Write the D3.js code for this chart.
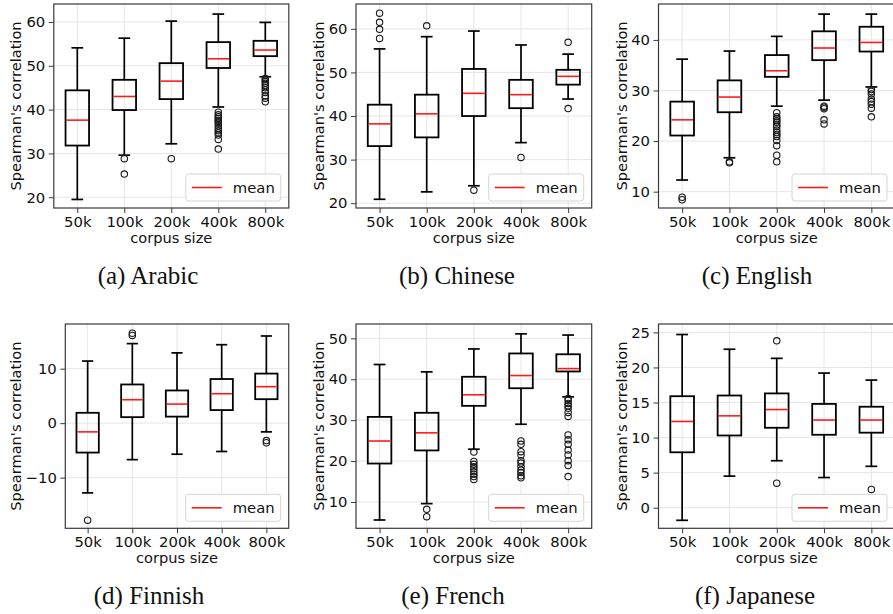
<!DOCTYPE html>
<html>
<head>
<meta charset="utf-8">
<script src="https://cdn.jsdelivr.net/npm/d3@7"></script>
<style>
  html, body { margin: 0; padding: 0; background: #fff; }
  svg { display: block; }
  .tick text { font-family: "DejaVu Sans", sans-serif; }
</style>
</head>
<body>
<svg id="chart" width="893" height="614"></svg>
<script>
// Corpus sizes on the x axis
const categories = ["50k", "100k", "200k", "400k", "800k"];

// Box statistics per corpus size: [lower whisker, Q1, red line, Q3, upper whisker]
const arabicStats = [
  [19.5, 31.8, 37.6, 44.4, 54.1],
  [29.6, 39.9, 43.0, 46.8, 56.3],
  [32.2, 42.4, 46.5, 50.6, 60.2],
  [40.6, 49.5, 51.6, 55.4, 61.8],
  [47.5, 52.2, 53.6, 55.7, 59.9]
];
const arabicOutliers = [
  [],
  [28.8, 25.3],
  [28.8],
  [39.4, 38.8, 38.4, 38.0, 37.6, 37.3, 36.9, 36.3, 35.7, 35.2, 34.7, 34.2, 33.2, 31.0],
  [47.1, 46.8, 46.4, 46.0, 45.5, 45.0, 44.5, 43.9, 43.1, 42.6, 41.8]
];

const chineseStats = [
  [20.9, 33.1, 38.2, 42.6, 55.4],
  [22.6, 35.1, 40.5, 44.9, 58.2],
  [24.0, 40.0, 45.2, 50.8, 59.5],
  [33.9, 41.8, 44.9, 48.3, 56.3],
  [43.9, 47.2, 49.1, 50.6, 54.2]
];
const chineseOutliers = [
  [63.6, 61.5, 59.9, 57.8],
  [60.7],
  [23.0],
  [30.5],
  [56.9, 41.7]
];

const englishStats = [
  [12.3, 21.1, 24.2, 27.8, 36.2],
  [16.7, 25.7, 28.7, 32.0, 37.8],
  [26.9, 32.7, 33.9, 37.0, 40.7],
  [28.1, 36.0, 38.4, 41.7, 45.1],
  [30.7, 37.7, 39.5, 42.6, 45.1]
];
const englishOutliers = [
  [8.9, 8.4],
  [15.9, 15.7],
  [25.6, 24.8, 24.4, 24.0, 23.7, 23.2, 22.9, 22.2, 21.7, 21.3, 20.9, 20.1, 19.1, 17.2, 15.9],
  [26.9, 26.7, 26.4, 24.2, 23.4],
  [30.2, 29.8, 29.3, 28.3, 27.8, 27.3, 26.5, 24.8]
];

const finnishStats = [
  [-12.8, -5.4, -1.6, 1.9, 11.4],
  [-6.7, 1.1, 4.3, 7.1, 14.6],
  [-5.7, 1.2, 3.5, 6.0, 12.9],
  [-5.2, 2.4, 5.4, 8.1, 14.4],
  [-1.6, 4.4, 6.7, 9.1, 16.0]
];
const finnishOutliers = [
  [-17.8],
  [16.5, 16.1],
  [],
  [],
  [-3.2, -3.6]
];

const frenchStats = [
  [5.6, 19.4, 24.9, 30.8, 43.6],
  [9.6, 22.6, 26.9, 31.8, 41.8],
  [22.9, 33.5, 36.2, 40.6, 47.4],
  [29.0, 37.8, 40.9, 46.3, 51.1],
  [35.7, 41.9, 42.6, 46.1, 50.8]
];
const frenchOutliers = [
  [],
  [8.2, 6.4],
  [22.2, 19.9, 19.2, 18.6, 18.1, 17.4, 16.8, 16.2, 15.5],
  [24.9, 24.1, 22.3, 21.5, 20.1, 19.5, 18.6, 17.8, 17.2, 16.4, 15.9],
  [35.3, 34.8, 34.1, 33.5, 32.9, 31.9, 30.9, 26.4, 25.2, 24.1, 22.7, 21.5, 20.1, 18.9, 16.2]
];

const japaneseStats = [
  [-1.8, 7.9, 12.3, 15.9, 24.7],
  [4.5, 10.3, 13.1, 16.0, 22.6],
  [6.7, 11.4, 14.0, 16.3, 21.3],
  [4.3, 10.4, 12.5, 14.8, 19.2],
  [5.9, 10.7, 12.5, 14.4, 18.2]
];
const japaneseOutliers = [
  [],
  [],
  [23.8, 3.5],
  [],
  [2.6]
];

// Y-axis ranges and tick values
const arabicDomain = [17.55, 64.1],   arabicTicks = [20, 30, 40, 50, 60];
const chineseDomain = [18.9, 65.7],   chineseTicks = [20, 30, 40, 50, 60];
const englishDomain = [6.77, 47.1],   englishTicks = [10, 20, 30, 40];
const finnishDomain = [-19.3, 18.2],  finnishTicks = [-10, 0, 10];
const frenchDomain = [3.57, 53.5],    frenchTicks = [10, 20, 30, 40, 50];
const japaneseDomain = [-2.94, 26.2], japaneseTicks = [0, 5, 10, 15, 20, 25];

// Sub-figure captions
const captions = ["(a) Arabic", "(b) Chinese", "(c) English", "(d) Finnish", "(e) French", "(f) Japanese"];

const legendLabel = "mean";
const yLabel = "Spearman's correlation";
const xLabel = "corpus size";

// Panel placement on the page
const layout = [
  { left: 53.8, right: 288.8, top: 4,   bottom: 208,   ylabX: 21,  capX: 148 },
  { left: 356,  right: 591.7, top: 4,   bottom: 208,   ylabX: 324, capX: 457 },
  { left: 658.5, right: 895,  top: 4,   bottom: 208,   ylabX: 627, capX: 757 },
  { left: 65.3, right: 288.7, top: 324, bottom: 528.3, ylabX: 21,  capX: 149 },
  { left: 356,  right: 591.7, top: 324, bottom: 528.3, ylabX: 324, capX: 453 },
  { left: 658.5, right: 895,  top: 324, bottom: 528.3, ylabX: 627, capX: 755 }
];

const panels = [
  { stats: arabicStats,   outliers: arabicOutliers,   domain: arabicDomain,   ticks: arabicTicks },
  { stats: chineseStats,  outliers: chineseOutliers,  domain: chineseDomain,  ticks: chineseTicks },
  { stats: englishStats,  outliers: englishOutliers,  domain: englishDomain,  ticks: englishTicks },
  { stats: finnishStats,  outliers: finnishOutliers,  domain: finnishDomain,  ticks: finnishTicks },
  { stats: frenchStats,   outliers: frenchOutliers,   domain: frenchDomain,   ticks: frenchTicks },
  { stats: japaneseStats, outliers: japaneseOutliers, domain: japaneseDomain, ticks: japaneseTicks }
];

const svg = d3.select("#chart");
const FONT = "DejaVu Sans, sans-serif";
const spineColor = "#3a3a3a";
const gridColor = "#e6e6e6";
const fmt = v => (v < 0 ? "\u2212" + Math.abs(v) : String(v));

panels.forEach((p, i) => {
  const L = layout[i];
  const g = svg.append("g");

  // Box positions 1..5 with half a unit of padding on each side
  const x = d3.scaleLinear().domain([0.5, categories.length + 0.5]).range([L.left, L.right]);
  const y = d3.scaleLinear().domain(p.domain).range([L.bottom, L.top]);
  const unit = x(1) - x(0);
  const boxW = 0.5 * unit;
  const capW = 0.25 * unit;

  // Grid
  g.append("g").selectAll("line.gy").data(p.ticks).join("line")
    .attr("x1", L.left).attr("x2", L.right)
    .attr("y1", d => y(d)).attr("y2", d => y(d))
    .attr("stroke", gridColor).attr("stroke-width", 1);
  g.append("g").selectAll("line.gx").data(categories).join("line")
    .attr("x1", (d, j) => x(j + 1)).attr("x2", (d, j) => x(j + 1))
    .attr("y1", L.top).attr("y2", L.bottom)
    .attr("stroke", gridColor).attr("stroke-width", 1);

  // Boxes
  const boxes = g.append("g").selectAll("g.box").data(p.stats).join("g")
    .attr("transform", (d, j) => `translate(${x(j + 1)},0)`);

  boxes.append("line") // lower whisker
    .attr("x1", 0).attr("x2", 0)
    .attr("y1", d => y(d[0])).attr("y2", d => y(d[1]))
    .attr("stroke", "#000").attr("stroke-width", 1.7);
  boxes.append("line") // upper whisker
    .attr("x1", 0).attr("x2", 0)
    .attr("y1", d => y(d[3])).attr("y2", d => y(d[4]))
    .attr("stroke", "#000").attr("stroke-width", 1.7);
  boxes.append("line") // lower cap
    .attr("x1", -capW / 2).attr("x2", capW / 2)
    .attr("y1", d => y(d[0])).attr("y2", d => y(d[0]))
    .attr("stroke", "#000").attr("stroke-width", 1.7);
  boxes.append("line") // upper cap
    .attr("x1", -capW / 2).attr("x2", capW / 2)
    .attr("y1", d => y(d[4])).attr("y2", d => y(d[4]))
    .attr("stroke", "#000").attr("stroke-width", 1.7);
  boxes.append("rect")
    .attr("x", -boxW / 2).attr("width", boxW)
    .attr("y", d => y(d[3])).attr("height", d => y(d[1]) - y(d[3]))
    .attr("fill", "none").attr("stroke", "#000").attr("stroke-width", 1.8);
  boxes.append("line") // red line
    .attr("x1", -boxW / 2 + 1).attr("x2", boxW / 2 - 1)
    .attr("y1", d => y(d[2])).attr("y2", d => y(d[2]))
    .attr("stroke", "#ff1a1a").attr("stroke-width", 1.6);

  // Outliers
  const flat = [];
  p.outliers.forEach((arr, j) => arr.forEach(v => flat.push({ j, v })));
  g.append("g").selectAll("circle").data(flat).join("circle")
    .attr("cx", d => x(d.j + 1)).attr("cy", d => y(d.v)).attr("r", 3.2)
    .attr("fill", "none").attr("stroke", "#1a1a1a").attr("stroke-width", 1.1);

  // Axes
  const yAxis = d3.axisLeft(y).tickValues(p.ticks).tickFormat(fmt).tickSize(5).tickPadding(3.5);
  const xAxis = d3.axisBottom(x).tickValues(d3.range(1, categories.length + 1))
    .tickFormat(d => categories[d - 1]).tickSize(5).tickPadding(3.5);

  const ya = g.append("g").attr("transform", `translate(${L.left},0)`).call(yAxis);
  const xa = g.append("g").attr("transform", `translate(0,${L.bottom})`).call(xAxis);
  [ya, xa].forEach(a => {
    a.select(".domain").remove();
    a.selectAll(".tick line").attr("stroke", spineColor).attr("stroke-width", 1);
    a.selectAll(".tick text").attr("font-size", 14.8).attr("fill", "#111").attr("font-family", FONT);
  });

  // Frame
  g.append("rect")
    .attr("x", L.left).attr("y", L.top)
    .attr("width", L.right - L.left).attr("height", L.bottom - L.top)
    .attr("fill", "none").attr("stroke", spineColor).attr("stroke-width", 1.2);

  // Axis titles
  g.append("text")
    .attr("transform", `translate(${L.ylabX},${(L.top + L.bottom) / 2}) rotate(-90)`)
    .attr("text-anchor", "middle")
    .attr("font-family", FONT).attr("font-size", 14.6).attr("fill", "#111")
    .text(yLabel);
  g.append("text")
    .attr("x", (L.left + L.right) / 2).attr("y", L.bottom + 34.5)
    .attr("text-anchor", "middle")
    .attr("font-family", FONT).attr("font-size", 14.6).attr("fill", "#111")
    .text(xLabel);

  // Legend
  const lw = 95, lh = 27;
  const lx = L.right - 8 - lw, ly = L.bottom - 7 - lh;
  const leg = g.append("g").attr("transform", `translate(${lx},${ly})`);
  leg.append("rect").attr("width", lw).attr("height", lh).attr("rx", 3)
    .attr("fill", "#fff").attr("fill-opacity", 0.85)
    .attr("stroke", "#d5d5d5").attr("stroke-width", 1);
  leg.append("line").attr("x1", 6).attr("x2", 36).attr("y1", lh / 2).attr("y2", lh / 2)
    .attr("stroke", "#ff1a1a").attr("stroke-width", 1.6);
  leg.append("text").attr("x", 47).attr("y", lh / 2 + 5)
    .attr("font-family", FONT).attr("font-size", 14.8).attr("fill", "#111")
    .text(legendLabel);

  // Caption
  g.append("text")
    .attr("x", L.capX).attr("y", L.bottom + 76)
    .attr("text-anchor", "middle")
    .attr("font-family", "Liberation Serif, serif").attr("font-size", 25).attr("fill", "#111")
    .text(captions[i]);
});
</script>
</body>
</html>
